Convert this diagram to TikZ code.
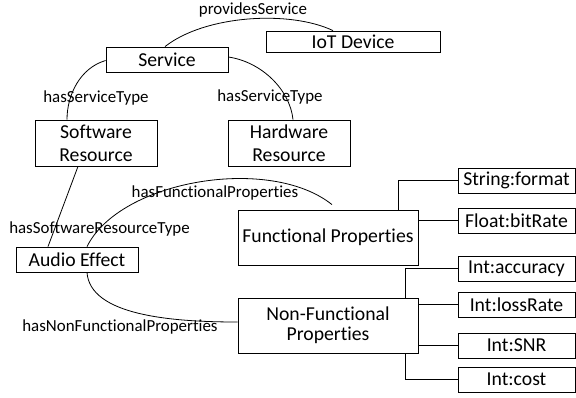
\documentclass[tikz,border=0pt]{standalone}
\usepackage{fontspec}
\setmainfont{Carlito}[Ligatures=NoCommon]
\begin{document}
\begin{tikzpicture}[x=1bp,y=-1bp,
  box/.style={draw, line width=0.8bp, rectangle, inner sep=0pt, align=center,
    font=\fontsize{19.7bp}{23bp}\selectfont},
  prop/.style={box, minimum width=117bp, minimum height=25bp},
  rel/.style={font=\fontsize{16.9bp}{19bp}\selectfont, inner sep=0pt},
  link/.style={line width=0.8bp}]
\useasboundingbox (0,0) rectangle (576,397);

% class boxes
\node[box, minimum width=122bp, minimum height=25bp] (service) at (167,59.5) {Service};
\node[box, minimum width=174bp, minimum height=21bp] (iot) at (353,41.5) {IoT Device};
\node[box, minimum width=122bp, minimum height=46bp] (sw) at (96,143) {Software\\Resource};
\node[box, minimum width=122bp, minimum height=46bp] (hw) at (289,143) {Hardware\\Resource};
\node[box, minimum width=122bp, minimum height=25bp] (audio) at (77,259.5) {Audio Effect};
\node[box, minimum width=180bp, minimum height=55bp] (fp) at (328,237.5) {Functional Properties};
\node[box, minimum width=180bp, minimum height=55bp,
  font=\fontsize{19.7bp}{20bp}\selectfont] (nfp) at (328,325.5) {Non-Functional\\Properties};

% attribute boxes
\node[prop] (fmt)  at (516.5,180.5) {String:format};
\node[prop] (bit)  at (516.5,220.5) {Float:bitRate};
\node[prop] (acc)  at (516.5,268.5) {Int:accuracy};
\node[prop] (loss) at (516.5,304.5) {Int:lossRate};
\node[prop] (snr)  at (516.5,345.5) {Int:SNR};
\node[prop] (cost) at (516.5,379.5) {Int:cost};

% relation labels
\node[rel] (lprov) at (253,10) {providesService};
\node[rel] (lst1)  at (96,98) {hasServiceType};
\node[rel] (lst2)  at (270,97) {hasServiceType};
\node[rel] (lsrt)  at (99.5,229) {hasSoftwareResourceType};
\node[rel] (lfp)   at (215,193) {hasFunctionalProperties};
\node[rel] (lnfp)  at (120,327) {hasNonFunctionalProperties};

% relations
\draw[link] ([xshift=-2bp]service.north) .. controls (205,15) and (290,10) .. ([xshift=-20bp]iot.north);
\draw[link] ([yshift=-1bp]service.west) .. controls (80,68) and (67,95) .. ([xshift=-29bp]sw.north);
\draw[link] ([yshift=2.5bp]service.east) .. controls (262,62) and (290,90) .. ([xshift=4bp]hw.north);
\draw[link] ([xshift=-18bp]sw.south) -- ([xshift=-29bp]audio.north);
\draw[link] ([xshift=10bp]audio.north) .. controls (120,180) and (270,155) .. ([xshift=4bp,yshift=5bp]fp.north);
\draw[link] ([xshift=10bp]audio.south) .. controls (90,315) and (170,322) .. ([yshift=3.5bp]nfp.west);

% attribute connectors
\draw[link] ([xshift=70bp]fp.north) |- (fmt.west);
\draw[link] (fp.east |- bit.west) -- (bit.west);
\draw[link] ([xshift=77bp]nfp.north) |- (acc.west);
\draw[link] (nfp.east |- loss.west) -- (loss.west);
\draw[link] (nfp.east |- snr.west) -- (snr.west);
\draw[link] ([xshift=77bp]nfp.south) |- (cost.west);
\end{tikzpicture}
\end{document}
